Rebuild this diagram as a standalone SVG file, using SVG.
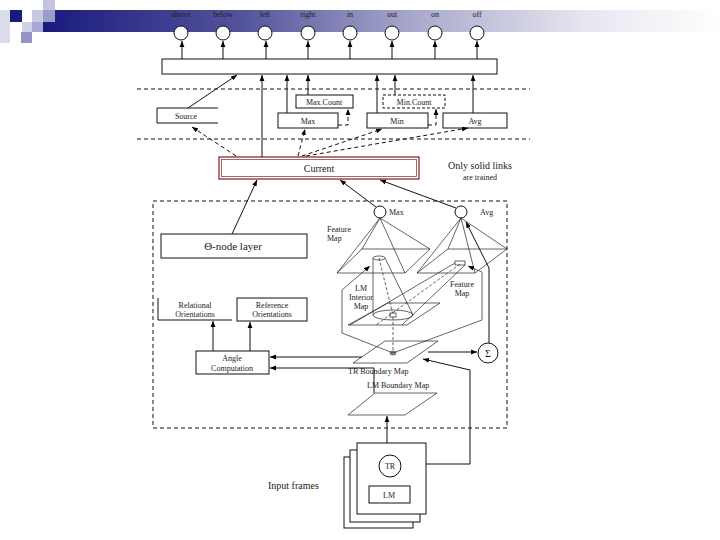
<svg xmlns="http://www.w3.org/2000/svg" width="720" height="540" viewBox="0 0 720 540">
<style>
.t{font-family:"Liberation Serif","DejaVu Serif",serif;fill:#222;}
.s8{font-size:8px;}
.s9{font-size:9px;}
.s10{font-size:10px;}
.ln{fill:none;stroke:#111;stroke-width:1;}
.dl{fill:none;stroke:#111;stroke-width:1;stroke-dasharray:4,3;}
.bx{fill:#fff;stroke:#111;stroke-width:1;}
.th{fill:none;stroke:#222;stroke-width:0.7;}
</style>
<defs>
<linearGradient id="bar" x1="43" y1="0" x2="720" y2="0" gradientUnits="userSpaceOnUse">
<stop offset="0" stop-color="#1a1a7e"/>
<stop offset="0.3" stop-color="#55559c"/>
<stop offset="0.55" stop-color="#a9a9cc"/>
<stop offset="0.8" stop-color="#e6e6f0"/>
<stop offset="1" stop-color="#ffffff"/>
</linearGradient>
<marker id="ah" viewBox="0 0 10 10" refX="10" refY="5" markerWidth="6" markerHeight="6" markerUnits="userSpaceOnUse" orient="auto"><path d="M0,1 L10,5 L0,9 z" fill="#000"/></marker>
</defs>
<rect width="720" height="540" fill="#fff"/>
<g id="decoration">
<rect x="43" y="10" width="677" height="22" fill="url(#bar)"/>
<rect x="0" y="10" width="10" height="33" fill="#dcdcec"/>
<rect x="10" y="10" width="12" height="12" fill="#1a1a80"/>
<rect x="32" y="10" width="11" height="12" fill="#c8c8e0"/>
<rect x="43" y="0" width="12" height="10" fill="#c4c4de"/>
<rect x="43" y="10" width="12" height="12" fill="#9c9cc8"/>
<rect x="22" y="22" width="10" height="10" fill="#d0d0e6"/>
<rect x="32" y="22" width="11" height="10" fill="#a8a8d0"/>
<rect x="21" y="32" width="11" height="11" fill="#9494c4"/>
</g>
<g id="outputs">
<g id="n-above"><text class="t s8" x="181" y="17" text-anchor="middle">above</text><circle class="bx" cx="181" cy="33" r="7"/></g>
<g id="n-below"><text class="t s8" x="223" y="17" text-anchor="middle">below</text><circle class="bx" cx="223" cy="33" r="7"/></g>
<g id="n-left"><text class="t s8" x="265" y="17" text-anchor="middle">left</text><circle class="bx" cx="265" cy="33" r="7"/></g>
<g id="n-right"><text class="t s8" x="308" y="17" text-anchor="middle">right</text><circle class="bx" cx="308" cy="33" r="7"/></g>
<g id="n-in"><text class="t s8" x="350" y="17" text-anchor="middle">in</text><circle class="bx" cx="350" cy="33" r="7"/></g>
<g id="n-out"><text class="t s8" x="392" y="17" text-anchor="middle">out</text><circle class="bx" cx="392" cy="33" r="7"/></g>
<g id="n-on"><text class="t s8" x="435" y="17" text-anchor="middle">on</text><circle class="bx" cx="435" cy="33" r="7"/></g>
<g id="n-off"><text class="t s8" x="477" y="17" text-anchor="middle">off</text><circle class="bx" cx="477" cy="33" r="7"/></g>
</g>
<g id="hidden-layer"><rect class="bx" x="162" y="59" width="335" height="15"/></g>
<g id="separators">
<line class="dl" x1="137" y1="89" x2="530" y2="89"/>
<line class="dl" x1="137" y1="139" x2="530" y2="139"/>
</g>
<g id="source"><path class="ln" d="M218,108 H157 V123 H218" fill="#fff"/><text class="t s8" x="186" y="119" text-anchor="middle">Source</text></g>
<g id="maxcount"><rect class="bx" x="296" y="95" width="57" height="13"/><text class="t s8" x="324" y="105" text-anchor="middle">Max.Count</text></g>
<g id="mincount"><rect class="bx" x="383" y="95" width="62" height="13" stroke-dasharray="3,2"/><text class="t s8" x="414" y="105" text-anchor="middle">Min.Count</text></g>
<g id="max"><rect class="bx" x="278" y="113" width="60" height="15"/><text class="t s8" x="308" y="124" text-anchor="middle">Max</text></g>
<g id="min"><rect class="bx" x="367" y="113" width="61" height="15"/><text class="t s8" x="397" y="124" text-anchor="middle">Min</text></g>
<g id="avg"><rect class="bx" x="443" y="113" width="64" height="15"/><text class="t s8" x="475" y="124" text-anchor="middle">Avg</text></g>
<g id="current">
<rect x="219" y="157" width="200" height="22" fill="#fff" stroke="#9a3a3a" stroke-width="1.4"/>
<rect x="221.5" y="159.5" width="195" height="17" fill="none" stroke="#7a2a2a" stroke-width="0.7"/>
<text class="t s10" x="319" y="172" text-anchor="middle">Current</text>
</g>
<g id="note">
<text class="t s10" x="480" y="169" text-anchor="middle">Only solid links</text>
<text class="t s8" x="480" y="180" text-anchor="middle">are trained</text>
</g>
<g id="module"><rect x="153" y="201" width="354" height="227" fill="none" stroke="#111" stroke-width="1" stroke-dasharray="4,3"/></g>
<g id="theta"><rect class="bx" x="161" y="234" width="146" height="24"/><text class="t" style="font-size:11px" x="233" y="250" text-anchor="middle">Θ-node layer</text></g>
<g id="relational"><path class="ln" d="M158,298 V320 H232"/><text class="t s8" x="195" y="308" text-anchor="middle">Relational</text><text class="t s8" x="195" y="317" text-anchor="middle">Orientations</text></g>
<g id="reference"><rect class="bx" x="237" y="298" width="70" height="23"/><text class="t s8" x="272" y="308" text-anchor="middle">Reference</text><text class="t s8" x="272" y="317" text-anchor="middle">Orientations</text></g>
<g id="angle"><rect class="bx" x="196" y="351" width="73" height="23"/><text class="t s8" x="232" y="361" text-anchor="middle">Angle</text><text class="t s8" x="232" y="371" text-anchor="middle">Computation</text></g>
<g id="maxnode"><circle class="bx" cx="380" cy="212" r="6"/><text class="t s8" x="389" y="215">Max</text></g>
<g id="avgnode"><circle class="bx" cx="461" cy="212" r="6"/><text class="t s8" x="480" y="215">Avg</text></g>
<g id="feature-map-left">
<polygon class="th" points="362,249 430,249 405,273 337,273"/>
<path class="th" d="M380,218 L337,273 M380,218 L430,249 M380,218 L362,249 M380,218 L405,273"/>
<text class="t s8" x="327" y="232">Feature</text><text class="t s8" x="327" y="241">Map</text>
</g>
<g id="feature-map-right">
<polygon class="th" points="448,249 507,249 475,273 417,273"/>
<path class="th" d="M461,218 L417,273 M461,218 L507,249 M461,218 L448,249 M461,218 L475,273"/>
<rect x="455" y="261" width="10" height="4" fill="#fff" stroke="#222" stroke-width="0.7"/>
<text class="t s8" x="462" y="287" text-anchor="middle">Feature</text><text class="t s8" x="462" y="296" text-anchor="middle">Map</text>
</g>
<g id="lm-interior">
<polygon class="th" points="388,303 440,303 407,325 348,325"/>
<path class="th" d="M373,258 L373,315 M385,258 L413,315"/>
<ellipse cx="393" cy="315" rx="20" ry="5" fill="none" stroke="#222" stroke-width="0.7"/>
<ellipse cx="379" cy="258" rx="6" ry="2" fill="#fff" stroke="#222" stroke-width="0.7"/>
<line x1="379" y1="258" x2="393" y2="315" stroke="#222" stroke-width="0.7" stroke-dasharray="3,2"/>
<rect x="390" y="313" width="6" height="4" fill="#fff" stroke="#222" stroke-width="0.7"/>
<path class="th" d="M455,263 L350,325 M465,265 L402,325"/>
<line x1="460" y1="264" x2="376" y2="325" stroke="#222" stroke-width="0.7" stroke-dasharray="3,2"/>
<text class="t s8" x="361" y="291" text-anchor="middle">LM</text><text class="t s8" x="361" y="300" text-anchor="middle">Interior</text><text class="t s8" x="361" y="309" text-anchor="middle">Map</text>
</g>
<g id="tr-boundary">
<polygon class="th" points="385,341 438,341 407,363 353,363"/>
<ellipse cx="393" cy="353" rx="3" ry="2" fill="#999" stroke="#222" stroke-width="0.5"/>
<line x1="393" y1="317" x2="393" y2="351" stroke="#222" stroke-width="0.7" stroke-dasharray="3,2"/>
<text class="t s8" x="348" y="374">TR Boundary Map</text>
</g>
<g id="lm-boundary">
<polygon class="th" points="375,393 437,393 405,415 348,415"/>
<text class="t s8" x="367" y="388">LM Boundary Map</text>
</g>
<g id="sigma"><circle class="bx" cx="488" cy="353" r="10"/><text class="t s10" x="488" y="357" text-anchor="middle">Σ</text></g>
<g id="input-frames">
<rect class="bx" x="344" y="457" width="69" height="71" stroke="#555"/>
<rect class="bx" x="350" y="450" width="70" height="72" stroke="#555"/>
<rect class="bx" x="357" y="443" width="69" height="71"/>
<circle class="bx" cx="390" cy="466" r="11"/><text class="t s8" x="390" y="469" text-anchor="middle">TR</text>
<rect class="bx" x="369" y="486" width="41" height="17"/><text class="t s8" x="389" y="498" text-anchor="middle">LM</text>
<text class="t s10" x="268" y="489">Input frames</text>
</g>
<g id="connectors">
<g marker-end="url(#ah)" class="ln">
<line x1="182" y1="59" x2="182" y2="41"/>
<line x1="223" y1="59" x2="223" y2="41"/>
<line x1="266" y1="59" x2="266" y2="41"/>
<line x1="308" y1="59" x2="308" y2="41"/>
<line x1="350" y1="59" x2="350" y2="41"/>
<line x1="392" y1="59" x2="392" y2="41"/>
<line x1="435" y1="59" x2="435" y2="41"/>
<line x1="477" y1="59" x2="477" y2="41"/>
<line x1="188" y1="108" x2="237" y2="75"/>
<line x1="262" y1="157" x2="262" y2="75"/>
<line x1="287" y1="113" x2="287" y2="75"/>
<line x1="308" y1="95" x2="308" y2="75"/>
<line x1="377" y1="113" x2="377" y2="75"/>
<line x1="395" y1="95" x2="395" y2="75"/>
<line x1="473" y1="113" x2="473" y2="75"/>
<line x1="232" y1="234" x2="257" y2="180"/>
<line x1="376" y1="207" x2="340" y2="180"/>
<line x1="456" y1="208" x2="380" y2="180"/>
<line x1="213" y1="351" x2="213" y2="321"/>
<line x1="250" y1="351" x2="250" y2="322"/>
<line x1="362" y1="357" x2="270" y2="357"/>
<path d="M374,393 V368 H270"/>
<line x1="428" y1="352" x2="477" y2="352"/>
<line x1="387" y1="443" x2="387" y2="416"/>
<path d="M426,464 H470 V370 L423,359"/>
<path d="M489,343 V268 L466,222"/>
<path class="th" d="M393,353 L342,333 V290 L370,266"/>
<path class="th" d="M393,353 L482,320 V272 L468,266"/>
</g>
<g marker-end="url(#ah)" class="dl">
<path d="M338,125 H348 V109"/>
<path d="M428,125 H436 V109"/>
<line x1="236" y1="156" x2="192" y2="127"/>
<line x1="298" y1="156" x2="305" y2="129"/>
<line x1="302" y1="156" x2="382" y2="129"/>
<line x1="306" y1="156" x2="468" y2="128"/>
</g>
</g>
</svg>
